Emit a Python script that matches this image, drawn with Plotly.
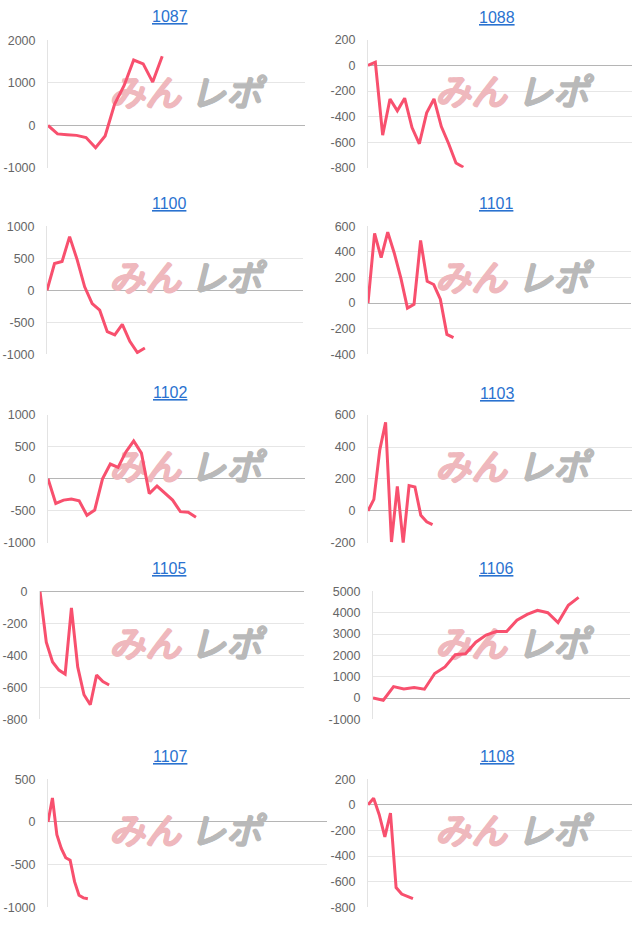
import plotly.graph_objects as go

# ---- data ----
codes = ["1087", "1088", "1100", "1101", "1102", "1103", "1105", "1106", "1107", "1108"]
s1087 = [0, -200, -220, -235, -285, -525, -250, 505, 940, 1540, 1450, 1020, 1630]
s1088 = [0, 25, -545, -262, -355, -256, -485, -612, -370, -262, -478, -612, -762, -795]
s1100 = [0, 420, 450, 840, 480, 55, -205, -310, -645, -695, -530, -795, -970, -900]
s1101 = [0, 545, 355, 555, 390, 195, -40, -10, 490, 170, 145, 30, -245, -270]
s1102 = [0, -385, -333, -315, -345, -570, -487, 0, 231, 179, 420, 590, 400, -231, -113, -231, -333, -513, -523, -600]
s1103 = [0, 72, 380, 555, -195, 154, -200, 158, 150, -27, -68, -86]
s1105 = [0, -318, -441, -492, -517, -103, -472, -646, -708, -523, -564, -585]
s1106 = [0, -100, 540, 430, 490, 415, 1150, 1460, 2030, 2080, 2620, 2950, 3120, 3120, 3650, 3920, 4110, 4000, 3540, 4350, 4720]
s1107 = [0, 280, -150, -310, -420, -450, -700, -860, -890, -900]
s1108 = [0, 51, -77, -251, -64, -646, -697, -715, -733]
series = [s1087, s1088, s1100, s1101, s1102, s1103, s1105, s1106, s1107, s1108]
# number of x categories (days) per chart
n_labels = [28, 37, 35, 41, 34, 46, 43, 26, 64, 48]
# y axis ranges and tick steps
y_min = [-1000, -800, -1000, -400, -1000, -200, -800, -1000, -1000, -800]
y_max = [2000, 200, 1000, 600, 1000, 600, 0, 5000, 500, 200]
y_step = [1000, 200, 500, 200, 500, 200, 200, 1000, 500, 200]

# ---- layout geometry (pixels) ----
W, H = 640, 931
plot_boxes = [  # x0, x1, ytop, ybottom
    (48, 305, 34, 163.3),
    (368, 632, 33.3, 163.3),
    (47, 303, 222.7, 352.7),
    (368, 631, 222.7, 352.5),
    (48, 305, 414, 544),
    (368, 632, 414.3, 544),
    (40, 304, 593.3, 723.3),
    (373, 630, 593.3, 723.3),
    (48, 327, 784, 914),
    (368, 632, 784, 914),
]
title_pos = [
    (170, 15), (497, 16), (169, 205), (496, 205), (170, 396.5),
    (497, 397), (169, 575.5), (496, 575.5), (170, 765.5), (497, 765.5),
]

LINE = "#f8506e"
PINK = "#efb8bd"
GRAY = "#b9b9b9"


def bold_shadow(c):
    return ", ".join("%s %s 0 %s" % (dx, dy, c) for dx, dy in
                     [("1px", "0"), ("-1px", "0"), ("0", "1px"), ("0", "-1px"),
                      ("1px", "1px"), ("-1px", "-1px")])


fig = go.Figure()
annotations = []
for i, (code, ys) in enumerate(zip(codes, series)):
    k = "" if i == 0 else str(i + 1)
    x0, x1, yt, yb = plot_boxes[i]
    xr = [0, n_labels[i] - 1]
    yr = [y_min[i], y_max[i]]

    # watermark logo (drawn first so the line sits above it)
    left = i % 2 == 0
    pink_cx = 145 if left else 471
    gray_cx = 226 if left else 553
    wy = yt + 57

    def px2x(px):
        return xr[0] + (px - x0) / (x1 - x0) * (xr[1] - xr[0])

    def py2y(py):
        return yr[1] - (py - yt) / (yb - yt) * (yr[1] - yr[0])

    for txt, cx, col in (("みん", pink_cx, PINK), ("レポ", gray_cx, GRAY)):
        fig.add_trace(go.Scatter(
            x=[px2x(cx)], y=[py2y(wy)], mode="text", text=[txt],
            textposition="middle center",
            textfont=dict(family="Noto Sans CJK JP", size=36, color=col,
                          style="italic", shadow=bold_shadow(col)),
            xaxis="x" + k, yaxis="y" + k, showlegend=False, hoverinfo="skip",
            cliponaxis=False,
        ))

    fig.add_trace(go.Scatter(
        x=list(range(len(ys))), y=ys, mode="lines",
        line=dict(color=LINE, width=3), xaxis="x" + k, yaxis="y" + k,
        showlegend=False, hoverinfo="skip",
    ))
    tv = list(range(y_min[i], y_max[i] + 1, y_step[i]))
    fig.layout["xaxis" + k] = dict(
        domain=[x0 / W, x1 / W], anchor="y" + k,
        range=xr, showticklabels=False, showgrid=False,
        zeroline=False, showline=False, fixedrange=True,
    )
    fig.layout["yaxis" + k] = dict(
        domain=[1 - yb / H, 1 - yt / H], anchor="x" + k,
        range=yr, tickmode="array", tickvals=tv,
        ticktext=[str(v) for v in tv],
        showgrid=True, gridcolor="#e6e6e6", gridwidth=1,
        zeroline=True, zerolinecolor="#b5b5b5", zerolinewidth=1,
        showline=True, linecolor="#e3e3e3", linewidth=1,
        ticks="", ticklabelstandoff=9,
        tickfont=dict(family="Liberation Sans, Arial", size=12.5, color="#666666"),
        fixedrange=True,
    )
    tx, ty = title_pos[i]
    annotations.append(dict(
        text="<u>%s</u>" % code, x=tx / W, y=1 - (ty - 5) / H, xref="paper", yref="paper",
        showarrow=False, xanchor="center", yanchor="middle",
        font=dict(family="Liberation Sans, Arial", size=16, color="#2a72d0"),
    ))

fig.update_layout(
    width=W, height=H, margin=dict(l=0, r=0, t=0, b=0),
    paper_bgcolor="white", plot_bgcolor="white",
    annotations=annotations, showlegend=False,
)
fig.write_html("out.html")
